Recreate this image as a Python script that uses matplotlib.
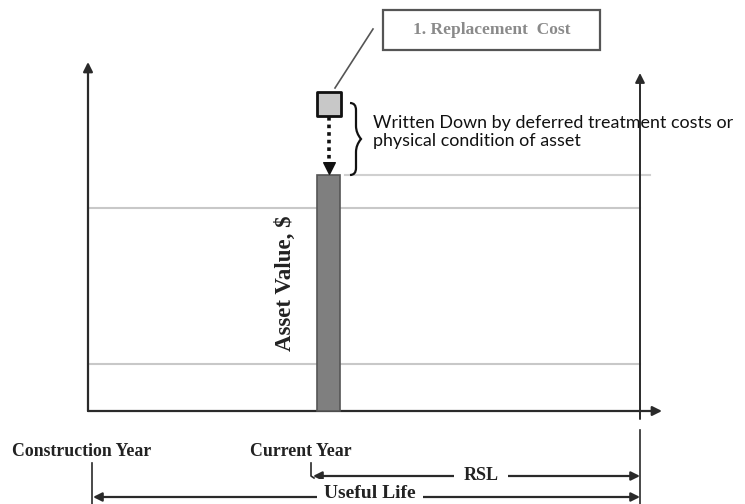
import matplotlib
matplotlib.use("Agg")
import matplotlib.pyplot as plt
from matplotlib.path import Path
from matplotlib.patches import PathPatch, Rectangle

# timeline (years) and values ($, arbitrary units)
construction_year = 0
current_year = 21.8
end_of_life = 50
asset_value = 100
replacement_cost = 130
ref_levels = [20, 86]
labels = ["Construction Year", "Current Year", "RSL", "Useful Life"]

# pixel -> data helper for annotation placement
def px(x, y):
    return ((x - 88) / 552 * 50, (411 - y) / 2.36)

fig = plt.figure(figsize=(7.45, 5.04), dpi=100)
ax = fig.add_axes([0, 0, 1, 1])
ax.set_xlim(px(0, 0)[0], px(745, 0)[0])
ax.set_ylim(px(0, 504)[1], px(0, 0)[1])
ax.axis("off")

axc = "#2a2a2a"
serif = "Liberation Serif"

# reference lines
for lv in ref_levels:
    ax.plot([construction_year + 0.2, end_of_life], [lv, lv], color="#c8c8c8", lw=1.5, zorder=1)
ax.plot([px(345, 0)[0], px(650, 0)[0]], [asset_value, asset_value], color="#d0d0d0", lw=1.5, zorder=1)

# axes with arrows
ax.annotate("", xy=(construction_year, px(0, 62)[1]), xytext=(construction_year, 0),
            arrowprops=dict(arrowstyle="-|>", color=axc, lw=1.6, mutation_scale=14, shrinkA=0, shrinkB=0))
ax.annotate("", xy=(px(662, 0)[0], 0), xytext=(construction_year, 0),
            arrowprops=dict(arrowstyle="-|>", color=axc, lw=1.6, mutation_scale=14, shrinkA=0, shrinkB=0))
ax.annotate("", xy=(end_of_life, px(0, 73)[1]), xytext=(end_of_life, px(0, 419)[1]),
            arrowprops=dict(arrowstyle="-|>", color=axc, lw=1.4, mutation_scale=14, shrinkA=0, shrinkB=0))
ax.plot([end_of_life, end_of_life], [px(0, 430)[1], px(0, 504)[1]], color=axc, lw=1.2)

# asset value bar
ax.bar(current_year, asset_value, width=2.08, color="#7f7f7f", edgecolor="#555555", lw=1.2, zorder=3)

# replacement cost marker
ax.scatter([current_year], [replacement_cost], marker="s", s=290, color="#c8c8c8",
           edgecolors="#111111", linewidths=2, zorder=4)
ax.plot([current_year, current_year], [px(0, 117)[1], px(0, 163)[1]], color="#111111",
        lw=2.6, linestyle=(0, (1, 1.1)), zorder=4)
ax.scatter([current_year], [px(0, 168)[1]], marker="v", s=70, color="#111111", zorder=4)

# callout box
bx0, by0 = px(383, 50)
bx1, by1 = px(600, 10)
ax.add_patch(Rectangle((bx0, by0), bx1 - bx0, by1 - by0, fill=False, edgecolor="#555555", lw=1.6))
ax.text((bx0 + bx1) / 2, (by0 + by1) / 2, "1. Replacement  Cost", ha="center", va="center",
        family=serif, fontweight="bold", fontsize=12.5, color="#8a8a8a")
ax.plot([px(335, 0)[0], px(373, 0)[0]], [px(0, 88)[1], px(0, 29)[1]], color="#555555", lw=1.2)

# curly brace
pts = [(350, 103), (356, 103), (356, 110), (356, 118), (356, 126), (356, 133), (361, 139),
       (356, 145), (356, 152), (356, 160), (356, 168), (356, 175), (350, 175)]
codes = [Path.MOVETO, Path.CURVE3, Path.CURVE3, Path.LINETO, Path.LINETO, Path.CURVE3, Path.CURVE3,
         Path.CURVE3, Path.CURVE3, Path.LINETO, Path.LINETO, Path.CURVE3, Path.CURVE3]
ax.add_patch(PathPatch(Path([px(*p) for p in pts], codes), fill=False, edgecolor="#111111", lw=1.6))

ax.text(*px(373, 132), "Written Down by deferred treatment costs or\nphysical condition of asset",
        ha="left", va="center", family="Lato", fontsize=12.9, color="#111111", linespacing=1.2)

# y label
ax.text(*px(285, 283), "Asset Value, $", rotation=90, ha="center", va="center",
        family=serif, fontweight="bold", fontsize=16.5, color="#222222")

# bottom labels
ax.text(*px(12, 452), labels[0], ha="left", va="center", family=serif, fontweight="bold",
        fontsize=12.8, color="#222222")
ax.text(*px(250, 452), labels[1], ha="left", va="center", family=serif, fontweight="bold",
        fontsize=12.8, color="#222222")

# ticks below
ax.plot([construction_year + 0.35, construction_year + 0.35], [px(0, 463)[1], px(0, 504)[1]], color=axc, lw=1.2)
ax.plot([px(311, 0)[0], px(311, 0)[0], px(314, 0)[0]], [px(0, 463)[1], px(0, 476)[1], px(0, 478)[1]],
        color=axc, lw=1.2)

# RSL and useful life spans
ax.annotate("", xy=(px(313, 0)[0], px(0, 476)[1]), xytext=(end_of_life, px(0, 476)[1]),
            arrowprops=dict(arrowstyle="<|-|>", color=axc, lw=1.6, mutation_scale=13, shrinkA=0, shrinkB=0))
ax.text(*px(481, 475), labels[2], ha="center", va="center", family=serif, fontweight="bold",
        fontsize=13, color="#222222", bbox=dict(facecolor="white", edgecolor="none", pad=7))
ax.annotate("", xy=(px(93, 0)[0], px(0, 497)[1]), xytext=(end_of_life, px(0, 497)[1]),
            arrowprops=dict(arrowstyle="<|-|>", color=axc, lw=1.6, mutation_scale=13, shrinkA=0, shrinkB=0))
ax.text(*px(370, 494), labels[3], ha="center", va="center", family=serif, fontweight="bold",
        fontsize=14, color="#222222", bbox=dict(facecolor="white", edgecolor="none", pad=5))

fig.savefig("out.png", dpi=100)
